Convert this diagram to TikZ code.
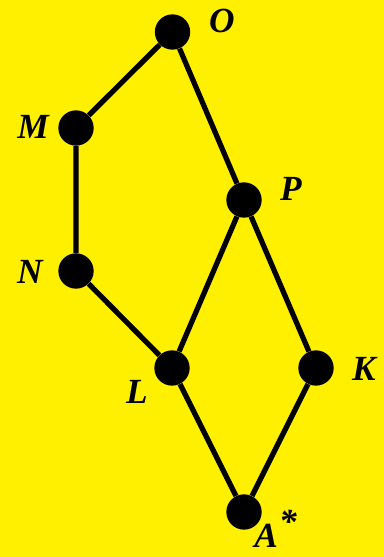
\documentclass[tikz,border=0pt]{standalone}
\usepackage{fontspec}
\setmainfont{Liberation Serif}
\definecolor{bgyellow}{RGB}{255,240,0}
\begin{document}
\begin{tikzpicture}[x=0.75pt,y=-0.75pt,
  dot/.style={circle,fill=black,inner sep=0pt,minimum size=26.5pt},
  lbl/.style={font=\fontsize{26.5}{26.5}\selectfont\bfseries\itshape,inner sep=0pt},
  edge/.style={line width=3.9pt}]
\fill[bgyellow] (0,0) rectangle (384,557);
\useasboundingbox (0,0) rectangle (384,557);
\node[dot] (O) at (172.5,32) {};
\node[dot] (M) at (76,128) {};
\node[dot] (P) at (244,200) {};
\node[dot] (N) at (76,271) {};
\node[dot] (L) at (172,368) {};
\node[dot] (K) at (316,368) {};
\node[dot] (A) at (244,512) {};
\draw[edge] (O) -- (M) -- (N) -- (L) -- (A) -- (K) -- (P) -- (O);
\draw[edge] (P) -- (L);
\node[lbl] (lO) at (222,21) {O};
\node[lbl] (lM) at (33,127) {M};
\node[lbl] (lP) at (291,189) {P};
\node[lbl] (lN) at (30,272) {N};
\node[lbl] (lL) at (137,392) {L};
\node[lbl] (lK) at (364,369) {K};
\node[lbl,anchor=base west] (lA) at (254,547) {A\kern1pt\raisebox{10pt}{*}};
\end{tikzpicture}
\end{document}
